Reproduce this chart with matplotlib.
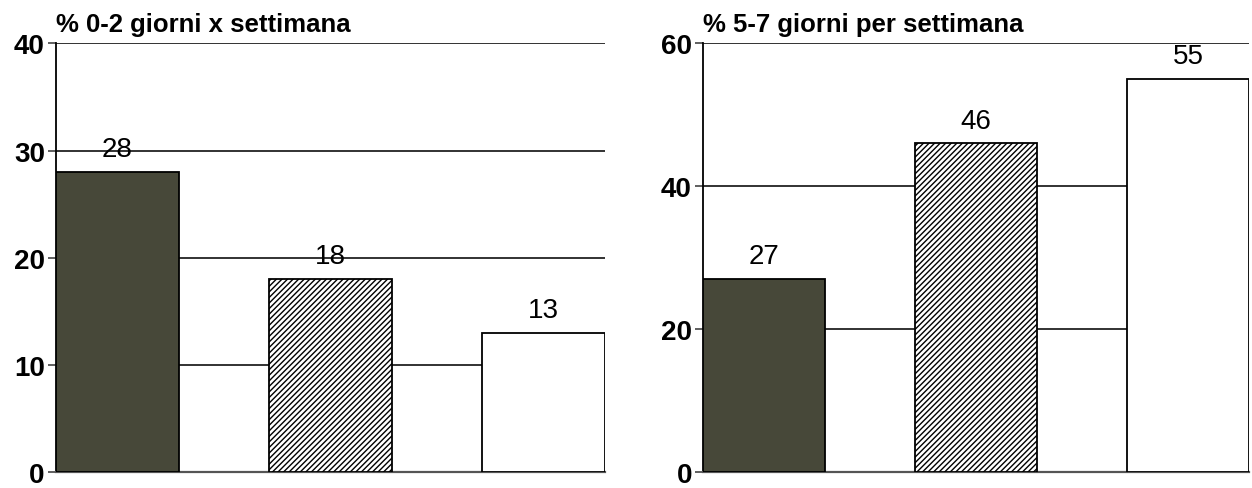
import matplotlib.pyplot as plt

plt.rcParams['font.family'] = ['Liberation Sans', 'DejaVu Sans']
plt.rcParams['hatch.linewidth'] = 1.0

# dati: percentuale di giorni a settimana
categorie = ['A', 'B', 'C']
valori_0_2 = [28, 18, 13]
valori_5_7 = [27, 46, 55]
titolo_0_2 = '% 0-2 giorni x settimana'
titolo_5_7 = '% 5-7 giorni per settimana'
ticks_0_2 = [0, 10, 20, 30, 40]
ticks_5_7 = [0, 20, 40, 60]

colori = ['#474839', 'white', 'white']
tratteggi = [None, '//////', None]

fig = plt.figure(figsize=(12.52, 4.89), dpi=100)
ax1 = fig.add_axes([0.0447, 0.033, 0.4385, 0.876])
ax2 = fig.add_axes([0.5615, 0.033, 0.436, 0.876])


def disegna(ax, valori, ticks, titolo):
    for i, v in enumerate(valori):
        ax.bar(i, v, width=0.575, color=colori[i], hatch=tratteggi[i],
               edgecolor='black', linewidth=1.3, zorder=3)
        ax.annotate(str(v), (i, v), xytext=(0, 7), textcoords='offset points',
                    ha='center', va='bottom', fontsize=20, zorder=4)
    for t in ticks[1:]:
        ax.axhline(t, color='#222222', linewidth=1.3, zorder=1)
    ax.set_xlim(-0.2875, 2.2875)
    ax.set_ylim(0, ticks[-1])
    ax.set_yticks(ticks)
    ax.set_yticklabels([str(t) for t in ticks], fontsize=20, fontweight='bold')
    ax.set_xticks([])
    for s in ['top', 'right']:
        ax.spines[s].set_visible(False)
    ax.spines['left'].set_linewidth(1.3)
    ax.spines['bottom'].set_linewidth(1.6)
    ax.spines['bottom'].set_color('#555555')
    ax.tick_params(axis='y', length=6, width=1.2, pad=2, color='#444444')
    ax.set_title(titolo, loc='left', fontsize=18.5, fontweight='bold', pad=9)


disegna(ax1, valori_0_2, ticks_0_2, titolo_0_2)
disegna(ax2, valori_5_7, ticks_5_7, titolo_5_7)

fig.savefig('out.png', dpi=100)
